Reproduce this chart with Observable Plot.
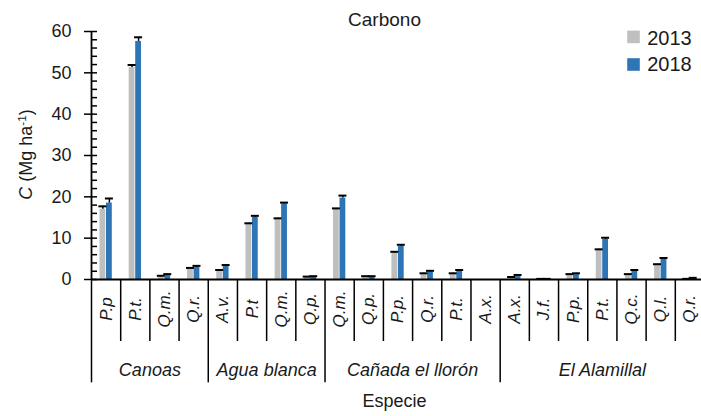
<!DOCTYPE html>
<html><head><meta charset="utf-8">
<script src="https://cdn.jsdelivr.net/npm/d3@7"></script>
<script src="https://cdn.jsdelivr.net/npm/@observablehq/plot@0.6"></script>
<style>
body{margin:0;background:#fff;}
#chart svg{display:block;overflow:visible;}
</style></head><body><div id="chart"></div>
<script>
// ---- data ----
const groups = ["Canoas", "Agua blanca", "Cañada el llorón", "El Alamillal"];
const groupSizes = [4, 4, 6, 7];
const species = ["P.p", "P.t.", "Q.m.", "Q.r.",
                 "A.v.", "P.t", "Q.m.", "Q.p.",
                 "Q.m.", "Q.p.", "P.p.", "Q.r.", "P.t.", "A.x.",
                 "A.x.", "J.f.", "P.p.", "P.t.", "Q.c.", "Q.l.", "Q.r."];
const years = ["2013", "2018"];
const carbon2013 = [17.0, 51.3, 0.6, 2.6,  2.0, 13.3, 14.6, 0.5,  16.9, 0.6, 6.4, 1.3, 1.3, 0,  0.4, 0.1, 1.0, 7.1, 1.1, 3.5, 0.1];
const error2013  = [0.7, 0.6, 0.3, 0.2,    0.3, 0.3, 0.2, 0.2,    0.3, 0.2, 0.3, 0.2, 0.2, 0,    0.2, 0.05, 0.3, 0.2, 0.2, 0.2, 0.05];
const carbon2018 = [18.5, 57.6, 1.0, 3.0,  3.2, 15.0, 18.3, 0.6,  19.7, 0.6, 8.0, 1.8, 2.0, 0,  0.8, 0.1, 1.3, 9.7, 2.0, 4.9, 0.3];
const error2018  = [1.1, 1.0, 0.3, 0.3,    0.3, 0.4, 0.3, 0.2,    0.6, 0.2, 0.4, 0.3, 0.3, 0,    0.3, 0.05, 0.2, 0.4, 0.3, 0.3, 0.1];
const yTicks = [0, 10, 20, 30, 40, 50, 60];
const yMinorTicks = d3.range(0, 61, 2);
const colors = {"2013": "#bfbfbf", "2018": "#2e75b6"};

// ---- derived tables ----
const rows = species.map((s, i) => ({
  i, s,
  v13: carbon2013[i], e13: error2013[i],
  v18: carbon2018[i], e18: error2018[i]
}));
const bounds = [0, ...d3.cumsum(groupSizes)];
const innerBounds = d3.range(0, species.length + 1).filter(k => !bounds.includes(k));
const groupRows = groups.map((g, k) => ({g, x: (bounds[k] + bounds[k + 1]) / 2}));
const nz13 = rows.filter(d => d.v13 > 0);
const nz18 = rows.filter(d => d.v18 > 0);

const font = "Liberation Sans, Arial, sans-serif";
const ink = "#1a1a1a";

const legendMarks = years.flatMap((yr, k) => [
  Plot.dot([yr], {frameAnchor: "top-right", dx: -71, dy: 5.4 + k * 27.6, symbol: "square", r: 7.1, fill: colors[yr]}),
  Plot.text([yr], {frameAnchor: "top-right", dx: -57.3, dy: 6.9 + k * 26, text: d => d, textAnchor: "start", lineAnchor: "middle", fontSize: 20})
]);

const chart = Plot.plot({
  width: 701, height: 416,
  marginLeft: 91, marginRight: -3, marginTop: 31, marginBottom: 137,
  x: {domain: [0, species.length], axis: null},
  y: {domain: [0, 60], axis: null},
  style: {fontFamily: font, color: ink, background: "#fff", overflow: "visible"},
  marks: [
    // bars
    Plot.rectY(rows, {x1: "i", x2: d => d.i + 1, y: "v13", fill: colors["2013"], insetLeft: 8.5, insetRight: 14.9}),
    Plot.rectY(rows, {x1: "i", x2: d => d.i + 1, y: "v18", fill: colors["2018"], insetLeft: 15.0, insetRight: 8.4}),
    // error bars
    Plot.ruleX(nz13, {x: d => d.i + 0.5, y1: "v13", y2: d => d.v13 + d.e13, dx: -3.2, stroke: "#000", strokeWidth: 1.5}),
    Plot.ruleX(nz18, {x: d => d.i + 0.5, y1: "v18", y2: d => d.v18 + d.e18, dx: 3.3, stroke: "#000", strokeWidth: 1.5}),
    Plot.ruleY(nz13, {x1: "i", x2: d => d.i + 1, y: d => d.v13 + d.e13, insetLeft: 7.4, insetRight: 13.8, stroke: "#000", strokeWidth: 2}),
    Plot.ruleY(nz18, {x1: "i", x2: d => d.i + 1, y: d => d.v18 + d.e18, insetLeft: 13.9, insetRight: 7.3, stroke: "#000", strokeWidth: 2}),
    // y axis
    Plot.ruleX([0], {y1: 0, y2: 60, stroke: "#000", strokeWidth: 1.8}),
    Plot.ruleY(yMinorTicks, {x1: 0, x2: 0, insetRight: -6, stroke: "#000", strokeWidth: 1.5}),
    Plot.ruleY(yTicks, {x1: 0, x2: 0, insetLeft: -7, stroke: "#000", strokeWidth: 1.5}),
    Plot.text(yTicks, {x: 0, y: d => d, text: d => String(d), textAnchor: "end", lineAnchor: "middle", dx: -20, fontSize: 18}),
    // x axis
    Plot.ruleY([0], {stroke: "#000", strokeWidth: 2}),
    Plot.ruleX(innerBounds, {y1: 0, y2: -15, stroke: "#000", strokeWidth: 1.5}),
    Plot.ruleX(bounds, {y1: 0, y2: -25, stroke: "#000", strokeWidth: 1.5}),
    Plot.text(rows, {x: d => d.i + 0.5, y: 0, text: "s", rotate: -90, dy: 29.5, lineAnchor: "middle", textAnchor: "middle", fontSize: 17, fontStyle: "italic"}),
    Plot.text(groupRows, {x: "x", y: 0, text: "g", dy: 91, lineAnchor: "middle", fontSize: 18, fontStyle: "italic"}),
    // titles
    Plot.text(["Carbono"], {frameAnchor: "top", dx: -13.5, dy: -11.5, lineAnchor: "middle", textAnchor: "middle", fontSize: 19}),
    Plot.text(["Especie"], {frameAnchor: "bottom", dx: -3.5, dy: 122, lineAnchor: "middle", textAnchor: "middle", fontSize: 18}),
    Plot.text(["C (Mg ha-1)"], {frameAnchor: "left", dx: -65, dy: -1, rotate: -90, lineAnchor: "middle", textAnchor: "middle", fontSize: 18}),
    // legend
    ...legendMarks
  ]
});
document.getElementById("chart").append(chart);

// y label rich text (italic symbol, superscript exponent)
const svg = d3.select(chart);
svg.selectAll("text").filter(function () { return this.textContent === "C (Mg ha-1)"; })
  .each(function () {
    const t = d3.select(this);
    t.text(null);
    t.append("tspan").attr("font-style", "italic").text("C");
    t.append("tspan").text(" (Mg ha");
    t.append("tspan").attr("baseline-shift", "super").attr("font-size", "65%").text("-1");
    t.append("tspan").text(")");
  });
</script></body></html>
